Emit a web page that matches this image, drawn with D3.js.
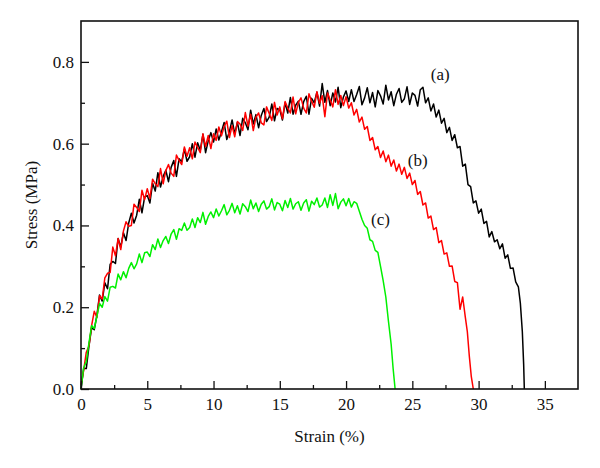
<!DOCTYPE html>
<html>
<head>
<meta charset="utf-8">
<script src="https://cdn.jsdelivr.net/npm/d3@7"></script>
<style>
  body { margin: 0; background: #fff; }
  svg text { font-family: "Liberation Serif", "DejaVu Serif", serif; }
</style>
</head>
<body>
<svg id="mainsvg" width="600" height="468"></svg>
<script>
// data: [strain %, stress MPa]
const curveA = [[0,0],[0.2,0.05],[0.4,0.05],[0.6,0.105],[0.8,0.15],[1,0.145],[1.2,0.18],[1.4,0.23],[1.6,0.215],[1.8,0.26],[2,0.245],[2.2,0.305],[2.4,0.312],[2.6,0.307],[2.8,0.368],[3,0.347],[3.2,0.382],[3.4,0.363],[3.6,0.406],[3.8,0.43],[4,0.406],[4.2,0.425],[4.4,0.464],[4.6,0.431],[4.8,0.469],[5,0.473],[5.2,0.455],[5.4,0.503],[5.6,0.484],[5.8,0.529],[6,0.494],[6.2,0.52],[6.4,0.535],[6.6,0.507],[6.8,0.542],[7,0.559],[7.2,0.52],[7.4,0.563],[7.6,0.556],[7.8,0.587],[8,0.557],[8.2,0.568],[8.4,0.6],[8.6,0.567],[8.8,0.602],[9,0.584],[9.2,0.623],[9.4,0.578],[9.6,0.607],[9.8,0.627],[10,0.604],[10.2,0.636],[10.4,0.609],[10.6,0.629],[10.8,0.652],[11,0.61],[11.2,0.63],[11.4,0.658],[11.6,0.624],[11.8,0.652],[12,0.62],[12.2,0.662],[12.4,0.651],[12.6,0.634],[12.8,0.682],[13,0.648],[13.2,0.671],[13.4,0.639],[13.6,0.669],[13.8,0.686],[14,0.654],[14.2,0.665],[14.4,0.697],[14.6,0.656],[14.8,0.686],[15,0.683],[15.2,0.658],[15.4,0.70],[15.6,0.675],[15.8,0.713],[16,0.672],[16.2,0.694],[16.4,0.704],[16.6,0.672],[16.8,0.703],[17,0.716],[17.2,0.672],[17.4,0.711],[17.6,0.70],[17.8,0.726],[18,0.692],[18.2,0.747],[18.4,0.701],[18.6,0.73],[18.8,0.693],[19,0.724],[19.2,0.702],[19.4,0.738],[19.6,0.688],[19.8,0.714],[20,0.729],[20.2,0.703],[20.4,0.732],[20.6,0.703],[20.8,0.72],[21,0.74],[21.2,0.695],[21.4,0.712],[21.6,0.737],[21.8,0.70],[22,0.725],[22.2,0.69],[22.4,0.73],[22.6,0.717],[22.8,0.697],[23,0.743],[23.2,0.707],[23.4,0.727],[23.6,0.693],[23.8,0.721],[24,0.735],[24.2,0.701],[24.4,0.71],[24.6,0.739],[24.8,0.696],[25,0.724],[25.2,0.718],[25.4,0.692],[25.6,0.732],[25.8,0.738],[26,0.70],[26.2,0.712],[26.4,0.68],[26.6,0.697],[26.8,0.665],[27,0.682],[27.2,0.65],[27.4,0.662],[27.6,0.627],[27.8,0.64],[28,0.608],[28.2,0.622],[28.4,0.59],[28.6,0.593],[28.8,0.545],[29,0.55],[29.2,0.50],[29.4,0.495],[29.6,0.455],[29.8,0.46],[30,0.43],[30.2,0.44],[30.4,0.405],[30.6,0.41],[30.8,0.372],[31,0.385],[31.2,0.36],[31.4,0.365],[31.6,0.343],[31.8,0.355],[32,0.32],[32.2,0.328],[32.4,0.295],[32.6,0.296],[32.8,0.262],[33,0.25],[33.15,0.21],[33.3,0.14],[33.4,0.06],[33.45,0]];

const curveB = [[0,0.01],[0.2,0.045],[0.4,0.09],[0.6,0.105],[0.8,0.155],[1,0.19],[1.2,0.175],[1.4,0.228],[1.6,0.22],[1.8,0.272],[2,0.283],[2.2,0.285],[2.4,0.347],[2.6,0.326],[2.8,0.368],[3,0.341],[3.2,0.386],[3.4,0.409],[3.6,0.398],[3.8,0.40],[4,0.452],[4.2,0.444],[4.4,0.434],[4.6,0.486],[4.8,0.463],[5,0.49],[5.2,0.466],[5.4,0.513],[5.6,0.502],[5.8,0.495],[6,0.539],[6.2,0.502],[6.4,0.534],[6.6,0.549],[6.8,0.528],[7,0.52],[7.2,0.572],[7.4,0.559],[7.6,0.549],[7.8,0.592],[8,0.569],[8.2,0.59],[8.4,0.563],[8.6,0.604],[8.8,0.591],[9,0.578],[9.2,0.624],[9.4,0.593],[9.6,0.62],[9.8,0.588],[10,0.624],[10.2,0.608],[10.4,0.641],[10.6,0.619],[10.8,0.642],[11,0.655],[11.2,0.615],[11.4,0.644],[11.6,0.617],[11.8,0.654],[12,0.648],[12.2,0.632],[12.4,0.676],[12.6,0.643],[12.8,0.672],[13,0.632],[13.2,0.665],[13.4,0.675],[13.6,0.651],[13.8,0.646],[14,0.69],[14.2,0.674],[14.4,0.657],[14.6,0.701],[14.8,0.67],[15,0.69],[15.2,0.661],[15.4,0.703],[15.6,0.687],[15.8,0.675],[16,0.714],[16.2,0.673],[16.4,0.701],[16.6,0.712],[16.8,0.687],[17,0.675],[17.2,0.722],[17.4,0.704],[17.6,0.689],[17.8,0.727],[18,0.699],[18.2,0.717],[18.4,0.666],[18.6,0.724],[18.8,0.707],[19,0.69],[19.2,0.732],[19.4,0.696],[19.6,0.718],[19.8,0.693],[20,0.715],[20.2,0.687],[20.4,0.70],[20.6,0.67],[20.8,0.684],[21,0.653],[21.2,0.665],[21.4,0.635],[21.6,0.642],[21.8,0.608],[22,0.615],[22.2,0.585],[22.4,0.593],[22.6,0.566],[22.8,0.582],[23,0.556],[23.2,0.572],[23.4,0.545],[23.6,0.56],[23.8,0.533],[24,0.55],[24.2,0.525],[24.4,0.542],[24.6,0.515],[24.8,0.528],[25,0.50],[25.2,0.51],[25.4,0.476],[25.6,0.483],[25.8,0.45],[26,0.455],[26.2,0.418],[26.4,0.423],[26.6,0.39],[26.8,0.395],[27,0.358],[27.2,0.363],[27.4,0.33],[27.6,0.333],[27.8,0.30],[28,0.301],[28.2,0.263],[28.4,0.26],[28.6,0.195],[28.8,0.225],[29,0.175],[29.15,0.14],[29.3,0.08],[29.45,0.03],[29.6,0]];

const curveC = [[0,0],[0.2,0.052],[0.4,0.067],[0.6,0.113],[0.8,0.155],[1,0.148],[1.2,0.178],[1.4,0.209],[1.6,0.20],[1.8,0.226],[2,0.215],[2.2,0.249],[2.4,0.251],[2.6,0.247],[2.8,0.281],[3,0.267],[3.2,0.287],[3.4,0.272],[3.6,0.295],[3.8,0.309],[4,0.294],[4.2,0.306],[4.4,0.33],[4.6,0.309],[4.8,0.333],[5,0.335],[5.2,0.324],[5.4,0.353],[5.6,0.341],[5.8,0.367],[6,0.346],[6.2,0.363],[6.4,0.373],[6.6,0.356],[6.8,0.379],[7,0.39],[7.2,0.366],[7.4,0.392],[7.6,0.388],[7.8,0.406],[8,0.388],[8.2,0.395],[8.4,0.416],[8.6,0.395],[8.8,0.419],[9,0.407],[9.2,0.432],[9.4,0.403],[9.6,0.422],[9.8,0.433],[10,0.419],[10.2,0.44],[10.4,0.423],[10.6,0.436],[10.8,0.451],[11,0.426],[11.2,0.437],[11.4,0.454],[11.6,0.431],[11.8,0.448],[12,0.428],[12.2,0.453],[12.4,0.446],[12.6,0.434],[12.8,0.462],[13,0.441],[13.2,0.455],[13.4,0.434],[13.6,0.452],[13.8,0.46],[14,0.44],[14.2,0.446],[14.4,0.465],[14.6,0.438],[14.8,0.456],[15,0.452],[15.2,0.436],[15.4,0.461],[15.6,0.444],[15.8,0.466],[16,0.44],[16.2,0.453],[16.4,0.458],[16.6,0.437],[16.8,0.455],[17,0.463],[17.2,0.435],[17.4,0.459],[17.6,0.451],[17.8,0.467],[18,0.445],[18.2,0.45],[18.4,0.467],[18.6,0.444],[18.8,0.475],[19,0.449],[19.2,0.478],[19.4,0.441],[19.6,0.457],[19.8,0.465],[20,0.448],[20.2,0.466],[20.4,0.445],[20.6,0.458],[20.8,0.454],[21,0.435],[21.2,0.415],[21.4,0.40],[21.6,0.393],[21.8,0.365],[22,0.361],[22.2,0.339],[22.4,0.334],[22.6,0.30],[22.8,0.265],[23,0.225],[23.2,0.165],[23.4,0.11],[23.55,0.05],[23.7,0]];

const seriesNames = ['(a)', '(b)', '(c)'];
const seriesColors = ['#000000', '#ff0000', '#00f000'];
// label anchor positions in data units
const labelPos = [[27.1, 0.755], [25.4, 0.545], [22.6, 0.4]];
const xTicks = [0, 5, 10, 15, 20, 25, 30, 35];
const xMinorTicks = [2.5, 7.5, 12.5, 17.5, 22.5, 27.5, 32.5];
const yTicks = [0.0, 0.2, 0.4, 0.6, 0.8];
const yMinorTicks = [0.1, 0.3, 0.5, 0.7];

const svg = d3.select('#mainsvg');
const margin = { top: 21, right: 22, bottom: 79, left: 81 };
const width = +svg.attr('width');
const height = +svg.attr('height');
const innerWidth = width - margin.left - margin.right;
const innerHeight = height - margin.top - margin.bottom;
const font = '"Liberation Serif", "DejaVu Serif", serif';

const xScale = d3.scaleLinear().domain([0, 37.5]).range([0, innerWidth]);
const yScale = d3.scaleLinear().domain([0, 0.9]).range([innerHeight, 0]);

const g = svg.append('g').attr('transform', `translate(${margin.left}, ${margin.top})`);

// curves: black under red under green
const line = d3.line().x(d => xScale(d[0])).y(d => yScale(d[1]));
[curveA, curveB, curveC].forEach((c, i) => {
    g.append('path')
        .datum(c)
        .attr('d', line)
        .attr('fill', 'none')
        .attr('stroke', seriesColors[i])
        .attr('stroke-width', 1.5)
        .attr('stroke-linejoin', 'round');
});

// minor ticks (inside), no labels
const xAxisMinor = d3.axisBottom(xScale).tickValues(xMinorTicks).tickSize(-4).tickFormat('');
const yAxisMinor = d3.axisLeft(yScale).tickValues(yMinorTicks).tickSize(-4).tickFormat('');
g.append('g').attr('transform', `translate(0, ${innerHeight})`).call(xAxisMinor)
    .call(s => s.select('.domain').remove())
    .call(s => s.selectAll('text').remove());
g.append('g').call(yAxisMinor)
    .call(s => s.select('.domain').remove())
    .call(s => s.selectAll('text').remove());

// major ticks (inside) with labels
const xAxis = d3.axisBottom(xScale).tickValues(xTicks).tickSize(-8).tickPadding(9).tickFormat(d3.format('d'));
const yAxis = d3.axisLeft(yScale).tickValues(yTicks).tickSize(-8).tickPadding(7).tickFormat(d3.format('.1f'));
const xg = g.append('g').attr('transform', `translate(0, ${innerHeight})`).call(xAxis);
const yg = g.append('g').call(yAxis);
[xg, yg].forEach(a => {
    a.attr('font-family', font);
    a.select('.domain').remove();
    a.selectAll('text').attr('font-size', 17).attr('fill', '#111');
});
g.selectAll('.tick line').attr('stroke', '#111').attr('stroke-width', 1.3);

// frame
g.append('rect')
    .attr('width', innerWidth).attr('height', innerHeight)
    .attr('fill', 'none').attr('stroke', '#111').attr('stroke-width', 1.6);

// curve labels
seriesNames.forEach((n, i) => {
    g.append('text')
        .attr('x', xScale(labelPos[i][0]))
        .attr('y', yScale(labelPos[i][1]))
        .attr('text-anchor', 'middle')
        .attr('font-size', 17)
        .attr('fill', '#111')
        .text(n);
});

// axis titles
svg.append('text')
    .attr('x', margin.left + innerWidth / 2)
    .attr('y', 442)
    .attr('text-anchor', 'middle')
    .attr('font-size', 17)
    .attr('fill', '#111')
    .text('Strain (%)');
svg.append('text')
    .attr('transform', `translate(37, ${margin.top + innerHeight / 2}) rotate(-90)`)
    .attr('text-anchor', 'middle')
    .attr('font-size', 17)
    .attr('fill', '#111')
    .text('Stress (MPa)');
</script>
</body>
</html>
